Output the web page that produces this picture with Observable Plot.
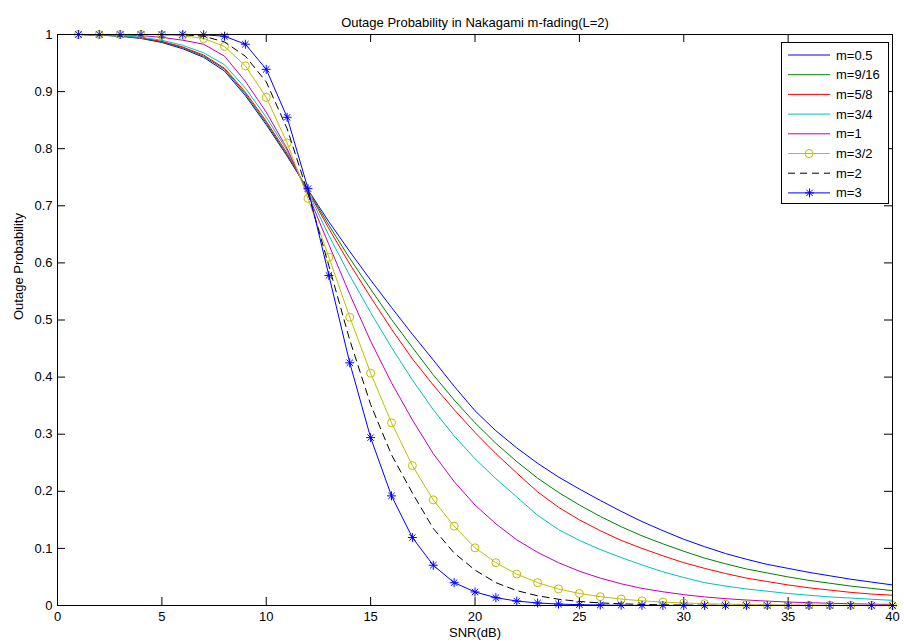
<!DOCTYPE html>
<html><head><meta charset="utf-8">
<script src="https://cdn.jsdelivr.net/npm/d3@7"></script>
<script src="https://cdn.jsdelivr.net/npm/@observablehq/plot@0.6"></script>
<style>
body{margin:0;background:#fff;}
#chart{position:relative;width:904px;height:643px;}
svg text{font-family:"Liberation Sans",Arial,Helvetica,sans-serif;}
</style>
</head><body><div id="chart"></div>
<script>
const chartTitle = "Outage Probability in Nakagami m-fading(L=2)";
const xLabel = "SNR(dB)";
const yLabel = "Outage Probability";
const xTicks = [0, 5, 10, 15, 20, 25, 30, 35, 40];
const yTicks = [0, 0.1, 0.2, 0.3, 0.4, 0.5, 0.6, 0.7, 0.8, 0.9, 1];
const snr = [1,2,3,4,5,6,7,8,9,10,11,12,13,14,15,16,17,18,19,20,21,22,23,24,25,26,27,28,29,30,31,32,33,34,35,36,37,38,39,40];

const seriesNames = ["m=0.5", "m=9/16", "m=5/8", "m=3/4", "m=1", "m=3/2", "m=2", "m=3"];

const m05 = [1.000,0.999,0.997,0.993,0.986,0.975,0.960,0.936,0.893,0.842,0.787,0.728,0.672,0.620,0.570,0.522,0.475,0.430,0.384,0.341,0.306,0.276,0.249,0.225,0.204,0.184,0.165,0.147,0.131,0.116,0.103,0.091,0.081,0.072,0.065,0.058,0.052,0.046,0.041,0.036];
const m916 = [1.000,0.999,0.997,0.994,0.987,0.977,0.962,0.939,0.896,0.845,0.789,0.727,0.666,0.608,0.554,0.501,0.452,0.404,0.360,0.320,0.284,0.252,0.223,0.198,0.176,0.156,0.138,0.122,0.108,0.095,0.083,0.073,0.064,0.057,0.050,0.044,0.039,0.034,0.030,0.026];
const m58 = [1.000,0.999,0.998,0.994,0.988,0.978,0.964,0.941,0.899,0.848,0.792,0.726,0.660,0.598,0.540,0.484,0.432,0.386,0.343,0.303,0.266,0.232,0.199,0.172,0.150,0.131,0.114,0.100,0.087,0.075,0.065,0.056,0.048,0.042,0.036,0.031,0.027,0.023,0.020,0.018];
const m34 = [1.000,0.9995,0.998,0.995,0.990,0.981,0.968,0.947,0.906,0.855,0.797,0.724,0.648,0.578,0.513,0.452,0.395,0.343,0.297,0.257,0.222,0.190,0.158,0.133,0.114,0.098,0.084,0.071,0.059,0.049,0.040,0.034,0.029,0.025,0.021,0.018,0.015,0.013,0.011,0.009];
const m1 = [1.000,1.000,0.9995,0.998,0.995,0.990,0.983,0.962,0.918,0.864,0.800,0.720,0.632,0.545,0.463,0.390,0.325,0.266,0.217,0.176,0.143,0.115,0.093,0.075,0.060,0.048,0.038,0.030,0.024,0.019,0.015,0.012,0.0096,0.0077,0.0061,0.0049,0.0039,0.0031,0.0024,0.0019];
const m32 = [1.000,1.000,1.000,1.000,0.999,0.998,0.993,0.979,0.945,0.890,0.810,0.713,0.610,0.505,0.407,0.320,0.245,0.185,0.139,0.101,0.075,0.055,0.040,0.029,0.021,0.0155,0.0113,0.0082,0.006,0.0044,0.0032,0.0023,0.0017,0.0012,0.0009,0.0006,0.00045,0.0003,0.0002,0.00015];
const m2 = [1.000,1.000,1.000,1.000,1.000,0.9995,0.997,0.987,0.962,0.917,0.835,0.722,0.595,0.465,0.352,0.264,0.197,0.135,0.092,0.062,0.040,0.026,0.017,0.011,0.007,0.0045,0.003,0.0019,0.0012,0.0008,0.0005,0.0003,0.0002,0.00013,0.00008,0.00005,0.00003,0.00002,0.00001,0.00001];
const m3 = [1.000,1.000,1.000,1.000,1.000,1.000,0.9995,0.997,0.983,0.939,0.855,0.730,0.578,0.425,0.294,0.192,0.119,0.0705,0.040,0.0237,0.0137,0.0078,0.0044,0.0025,0.0014,0.0008,0.00045,0.00025,0.00013,0.00007,0.00004,0.00002,0.00001,0,0,0,0,0,0,0];

const seriesValues = [m05, m916, m58, m34, m1, m32, m2, m3];
const seriesColors = ["#0000FF", "#008000", "#FF0000", "#00BFBF", "#BF00BF", "#BFBF00", "#000000", "#0000FF"];
const seriesDash = [null, null, null, null, null, null, "7,5", null];

const rows = seriesNames.flatMap((name, i) =>
  snr.map((x, j) => ({series: name, snr: x, p: seriesValues[i][j]})));

const W = 904, H = 643;
const mL = 57, mR = 12, mT = 34, mB = 38;
const fw = W - mL - mR, fh = H - mT - mB;
const tick = 8;

const marks = [];
seriesNames.forEach((name, i) => {
  marks.push(Plot.line(rows.filter(d => d.series === name), {
    x: "snr", y: "p", stroke: seriesColors[i], strokeWidth: 1,
    strokeDasharray: seriesDash[i] || undefined
  }));
  if (name === "m=3/2") {
    marks.push(Plot.dot(rows.filter(d => d.series === name), {
      x: "snr", y: "p", r: 4, stroke: seriesColors[i], fill: "none", strokeWidth: 1
    }));
  }
  if (name === "m=3") {
    const pts = rows.filter(d => d.series === name);
    marks.push(Plot.dot(pts, {x: "snr", y: "p", symbol: "plus", r: 3, stroke: seriesColors[i], strokeWidth: 1}));
    marks.push(Plot.dot(pts, {x: "snr", y: "p", symbol: "times", r: 3, stroke: seriesColors[i], strokeWidth: 1}));
  }
});

const chart = Plot.plot({
  width: W, height: H,
  marginLeft: mL, marginRight: mR, marginTop: mT, marginBottom: mB,
  style: {fontFamily: '"Liberation Sans", Arial, sans-serif', fontSize: "13px", background: "#fff", color: "#000"},
  x: {domain: [0, 40]},
  y: {domain: [0, 1]},
  marks: [
    Plot.ruleX(xTicks, {insetTop: fh - tick, stroke: "#000"}),
    Plot.ruleX(xTicks, {insetBottom: fh - tick, stroke: "#000"}),
    Plot.ruleY(yTicks, {insetRight: fw - tick, stroke: "#000"}),
    Plot.ruleY(yTicks, {insetLeft: fw - tick, stroke: "#000"}),
    Plot.axisX({ticks: xTicks, tickSize: 0, tickPadding: 6, tickFormat: d => String(d), label: null, fontSize: 13}),
    Plot.axisY({ticks: yTicks, tickSize: 0, tickPadding: 5, tickFormat: d => String(d), label: null, fontSize: 13}),
    ...marks,
    Plot.frame({stroke: "#000"}),
    Plot.text([chartTitle], {frameAnchor: "top", dy: -17, fontSize: 13, fill: "#000"}),
    Plot.text([xLabel], {frameAnchor: "bottom", dy: 31, fontSize: 13, fill: "#000"}),
    Plot.text([yLabel], {frameAnchor: "left", dx: -39, rotate: -90, fontSize: 13, fill: "#000"})
  ]
});
document.getElementById("chart").appendChild(chart);

// legend box (MATLAB style, upper right)
const svg = d3.select(chart);
const lg = svg.append("g").attr("text-anchor", "start");
const bx = 781, by = 42, bw = 107, bh = 161;
lg.append("rect").attr("x", bx + 0.5).attr("y", by + 0.5).attr("width", bw).attr("height", bh)
  .attr("fill", "#fff").attr("stroke", "#000");
seriesNames.forEach((name, i) => {
  const yy = 55 + i * 19.7;
  const l = lg.append("line").attr("x1", 788).attr("x2", 830).attr("y1", yy).attr("y2", yy)
    .attr("stroke", seriesColors[i]).attr("stroke-width", 1);
  if (seriesDash[i]) l.attr("stroke-dasharray", seriesDash[i]);
  if (name === "m=3/2") {
    lg.append("circle").attr("cx", 809).attr("cy", yy).attr("r", 4).attr("fill", "none").attr("stroke", seriesColors[i]);
  }
  if (name === "m=3") {
    lg.append("path").attr("d", `M805,${yy}h9M809.5,${yy-4.5}v9M806.3,${yy-3.2}l6.4,6.4M812.7,${yy-3.2}l-6.4,6.4`)
      .attr("stroke", seriesColors[i]).attr("fill", "none");
  }
  lg.append("text").attr("x", 836).attr("y", yy).attr("dy", "0.35em").attr("font-size", 13)
    .attr("text-anchor", "start").attr("fill", "#000").text(name);
});
</script>
</body></html>
